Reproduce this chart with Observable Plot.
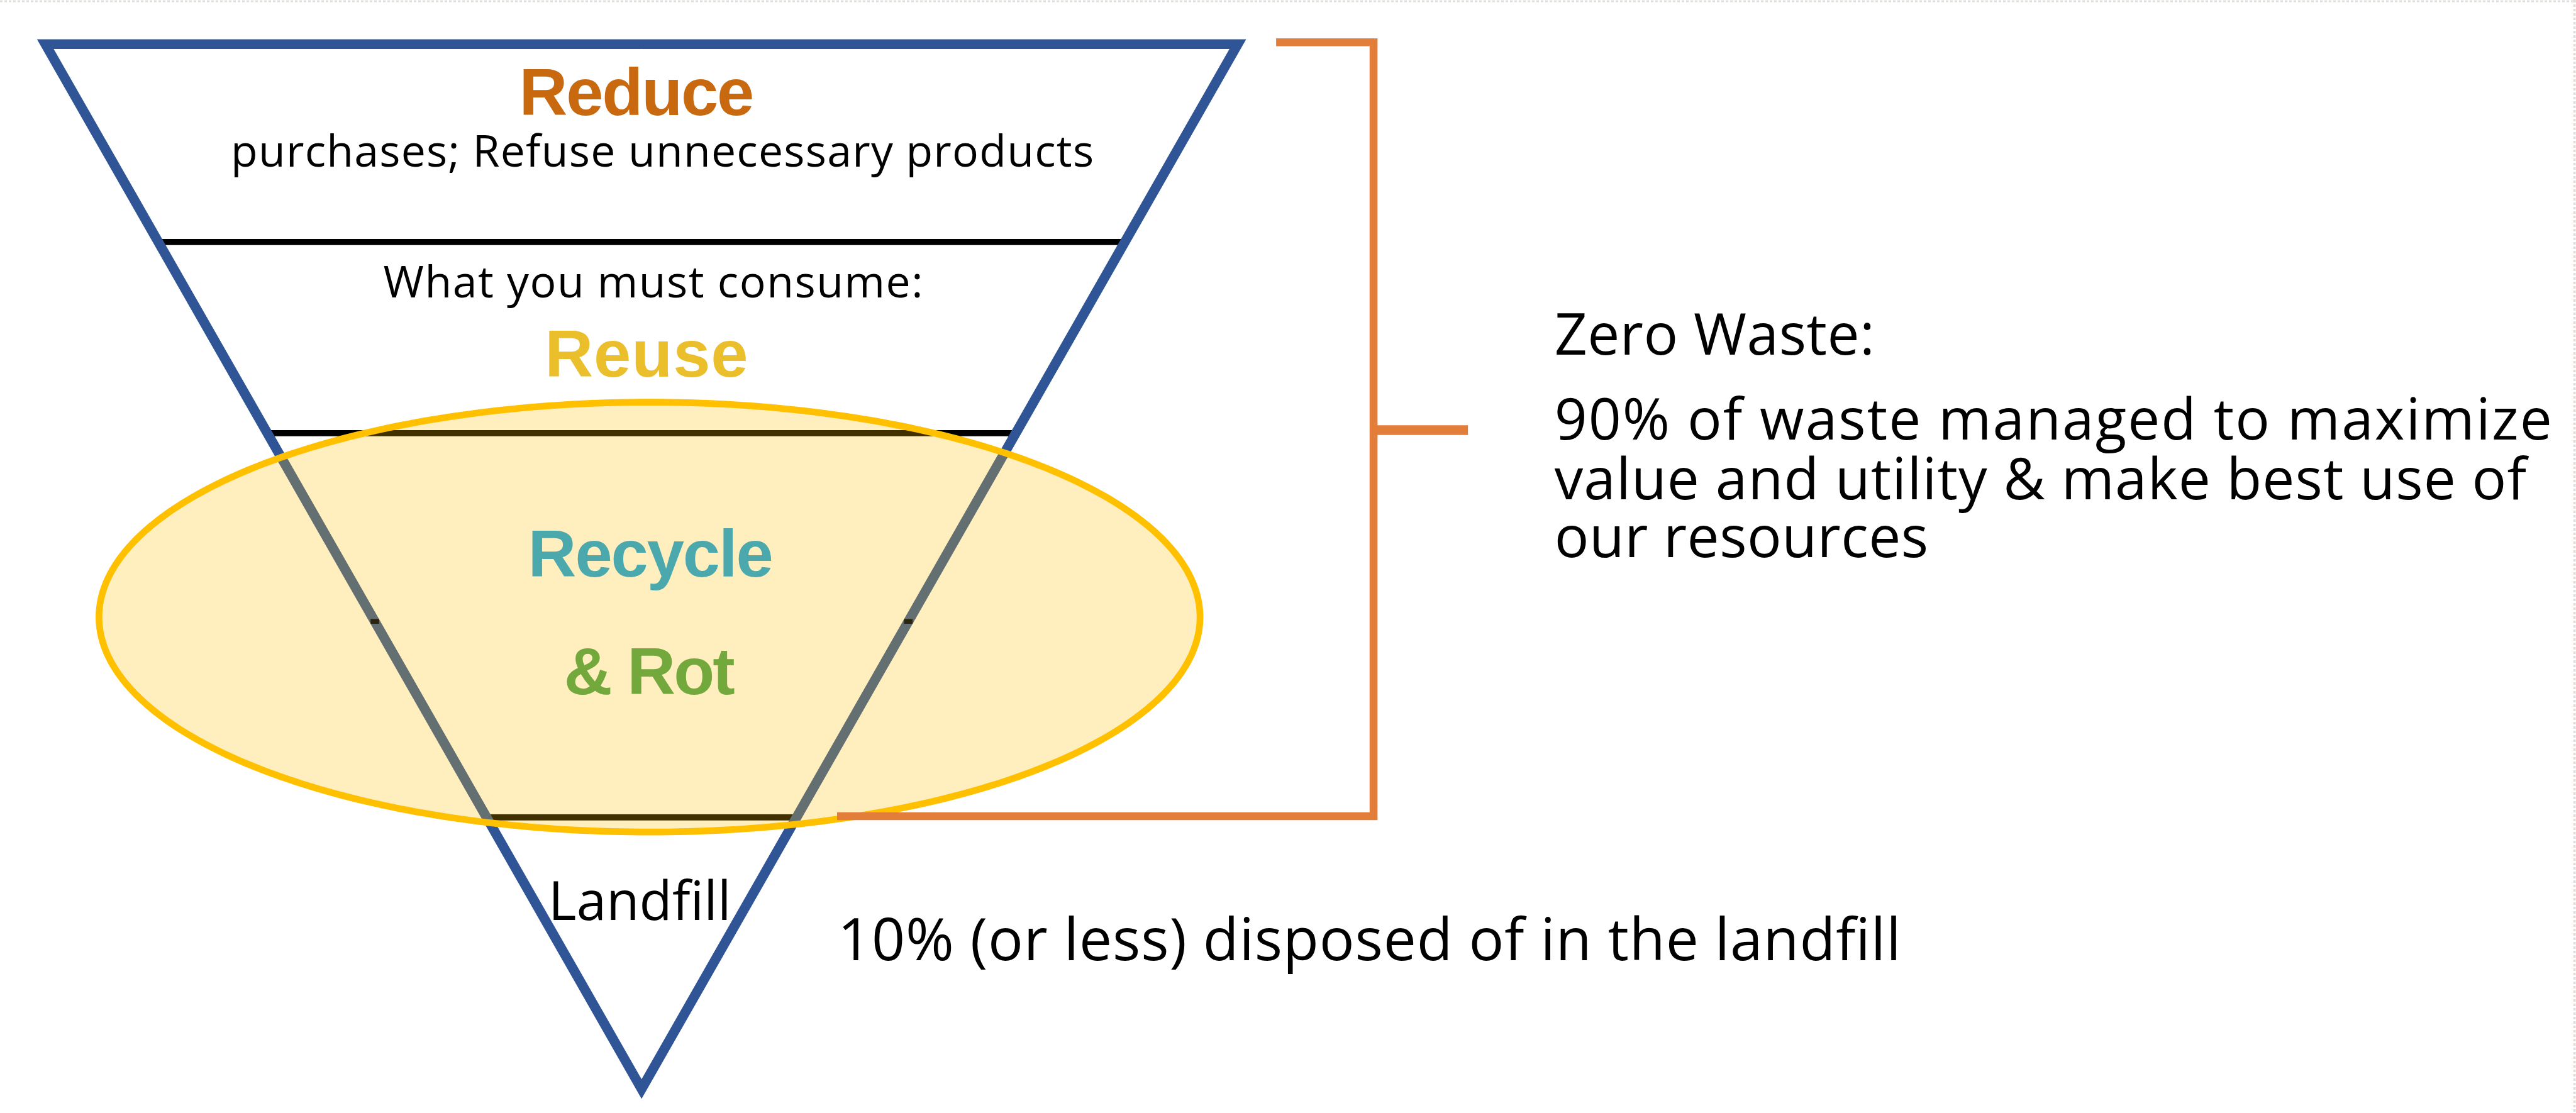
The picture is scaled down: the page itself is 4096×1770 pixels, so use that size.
<!DOCTYPE html>
<html><head><meta charset="utf-8">
<script src="https://cdn.jsdelivr.net/npm/d3@7"></script>
<script src="https://cdn.jsdelivr.net/npm/@observablehq/plot@0.6"></script>
<style>html,body{margin:0;padding:0;background:#fff;overflow:hidden}</style>
</head><body><div id="chart"></div>
<script>
// Diagram content (reference pixel units, 4230 x 1828)
const funnelX = [1053, 2032, 1053, 74, 1053];
const funnelY = [72, 72, 1788, 72, 72];
const dividerY = [397, 711, 1342];
const dividerX1 = [259, 438, 799];
const dividerX2 = [1847, 1668, 1307];
const hiddenDividerY = 1020;
const hiddenDividerX = [615, 1491];
const bracketX = [2095, 2255, 2255, 1374];
const bracketY = [69, 69, 1340, 1340];
const tickX = [2255, 2410];
const tickY = [706, 706];
const ellipseCenter = [1066, 1013];
const ellipseRadii = [904, 353];

const headingText = ["Reduce", "Reuse", "Recycle", "& Rot"];
const headingX = [1045, 1061, 1068, 1066];
const headingY = [188, 618, 947, 1140];
const headingW = [386, 334, 403, 281];
const headingColor = ["#C9690F", "#EBBE2C", "#4BA9AE", "#72A83C"];

const tierText = ["purchases; Refuse unnecessary products", "What you must consume:", "Landfill"];
const tierX = [1087, 1072, 1050];
const tierY = [273, 488, 1510];
const tierW = [1417, 886, 300];
const tierSize = [72, 72, 88];

const noteText = ["Zero Waste:", "90% of waste managed to maximize", "value and utility & make best use of", "our resources", "10% (or less) disposed of in the landfill"];
const noteX = [2552, 2552, 2552, 2552, 1375];
const noteY = [582, 721, 820, 915, 1577];
const noteW = [526, 1638, 1596, 614, 1746];
const noteSize = [94, 94, 94, 94, 96];

const S = 4096 / 4230;

const funnel = funnelX.map((x, i) => ({x, y: funnelY[i]}));
const dividers = dividerY.map((y, i) => ({x1: dividerX1[i], x2: dividerX2[i], y}));
const hiddenTicks = hiddenDividerX.map(x => ({x1: x - 7, x2: x + 7, y: hiddenDividerY}));
const bracket = bracketX.map((x, i) => ({x, y: bracketY[i]}));
const tick = tickX.map((x, i) => ({x, y: tickY[i]}));
const [cx, cy] = ellipseCenter, [rx, ry] = ellipseRadii;
const ellipseLoop = d3.range(0, 361).map(a => {
  const t = a * Math.PI / 180;
  return {x: cx + rx * Math.cos(t), y: cy + ry * Math.sin(t)};
});
const ellipseBand = d3.range(0, 181).map(a => {
  const t = Math.PI - a * Math.PI / 180;
  return {x: cx + rx * Math.cos(t), y1: cy - ry * Math.sin(t), y2: cy + ry * Math.sin(t)};
});
const headings = headingText.map((t, i) => ({t, x: headingX[i], y: headingY[i], c: headingColor[i]}));
const tiers = tierText.map((t, i) => ({t, x: tierX[i], y: tierY[i], s: tierSize[i] * S}));
const notes = noteText.map((t, i) => ({t, x: noteX[i], y: noteY[i], s: noteSize[i] * S}));

const svg = Plot.plot({
  width: 4096,
  height: 1770,
  margin: 0,
  style: {background: "#fff"},
  x: {domain: [0, 4230], range: [0, 4096], axis: null},
  y: {domain: [0, 1828], range: [0, 1770], axis: null},
  marks: [
    Plot.ruleY([1.5], {stroke: "#e4dfda", strokeWidth: 3 * S, strokeDasharray: "4,3"}),
    Plot.ruleX([4227], {stroke: "#e4dfda", strokeWidth: 4 * S, strokeDasharray: "4,3"}),
    Plot.link(dividers, {x1: "x1", x2: "x2", y1: "y", y2: "y", stroke: "#000", strokeWidth: 10 * S, strokeLinecap: "butt"}),
    Plot.line(funnel, {x: "x", y: "y", stroke: "#2F5597", strokeWidth: 16 * S, strokeLinejoin: "miter", strokeMiterlimit: 10, strokeLinecap: "butt"}),
    Plot.areaY(ellipseBand, {x: "x", y1: "y1", y2: "y2", fill: "#FFC000", fillOpacity: 0.25}),
    Plot.link(hiddenTicks, {x1: "x1", x2: "x2", y1: "y", y2: "y", stroke: "#2a2410", strokeWidth: 8 * S, strokeLinecap: "butt"}),
    Plot.line(ellipseLoop, {x: "x", y: "y", stroke: "#FFC000", strokeWidth: 11 * S}),
    Plot.line(bracket, {x: "x", y: "y", stroke: "#E27D3A", strokeWidth: 13 * S, strokeLinejoin: "miter", strokeMiterlimit: 10, strokeLinecap: "butt"}),
    Plot.line(tick, {x: "x", y: "y", stroke: "#E27D3A", strokeWidth: 16 * S, strokeLinecap: "butt"}),
    ...headings.map(h => Plot.text([h], {x: "x", y: "y", text: "t", fill: h.c, fontFamily: "Liberation Sans, Arial, sans-serif", fontWeight: "bold", fontSize: 110 * S, textAnchor: "middle", lineAnchor: "bottom"})),
    Plot.text(tiers, {x: "x", y: "y", text: "t", fill: "#000", fontFamily: "Open Sans, sans-serif", fontSize: "s", textAnchor: "middle", lineAnchor: "bottom"}),
    Plot.text(notes, {x: "x", y: "y", text: "t", fill: "#000", fontFamily: "Open Sans, sans-serif", fontSize: "s", textAnchor: "start", lineAnchor: "bottom"})
  ]
});

const widths = new Map();
headingText.forEach((t, i) => widths.set(t, headingW[i]));
tierText.forEach((t, i) => widths.set(t, tierW[i]));
noteText.forEach((t, i) => widths.set(t, noteW[i]));
d3.select(svg).selectAll("text").each(function () {
  const w = widths.get(this.textContent);
  if (w) { this.setAttribute("textLength", w * S); this.setAttribute("lengthAdjust", "spacing"); }
});
document.getElementById("chart").appendChild(svg);
</script>
</body></html>
